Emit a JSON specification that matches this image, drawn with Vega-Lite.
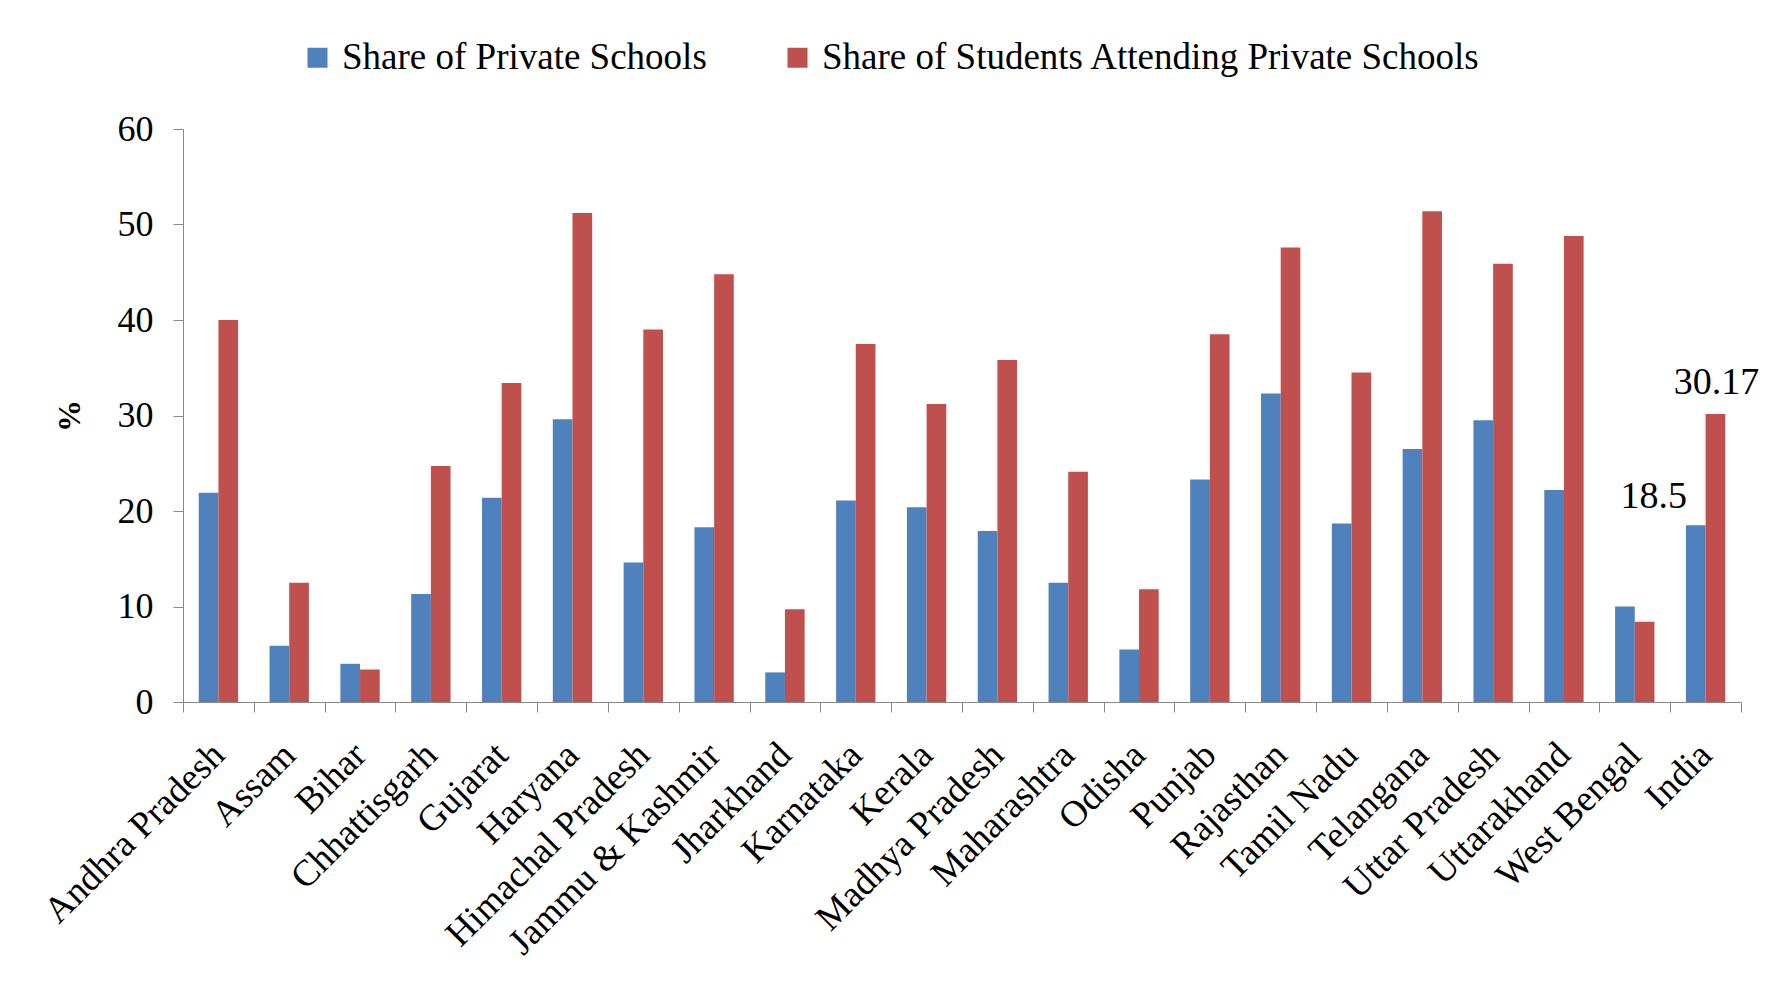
{
  "$schema": "https://vega.github.io/schema/vega-lite/v6.json",
  "width": 1558,
  "height": 573,
  "autosize": {"type": "none"},
  "padding": {"left": 183, "top": 129, "right": 44, "bottom": 279},
  "background": "white",
  "config": {
    "view": {"stroke": null},
    "font": "Liberation Serif",
    "axis": {"labelFont": "Liberation Serif", "titleFont": "Liberation Serif", "labelColor": "black", "titleColor": "black", "domainColor": "#888888", "tickColor": "#888888", "grid": false},
    "legend": {"labelFont": "Liberation Serif"}
  },
  "data": {
    "values": [
      {"state": "Andhra Pradesh", "series": "Share of Private Schools", "value": 21.9},
      {"state": "Andhra Pradesh", "series": "Share of Students Attending Private Schools", "value": 40.0},
      {"state": "Assam", "series": "Share of Private Schools", "value": 5.9},
      {"state": "Assam", "series": "Share of Students Attending Private Schools", "value": 12.5},
      {"state": "Bihar", "series": "Share of Private Schools", "value": 4.0},
      {"state": "Bihar", "series": "Share of Students Attending Private Schools", "value": 3.4},
      {"state": "Chhattisgarh", "series": "Share of Private Schools", "value": 11.3},
      {"state": "Chhattisgarh", "series": "Share of Students Attending Private Schools", "value": 24.7},
      {"state": "Gujarat", "series": "Share of Private Schools", "value": 21.4},
      {"state": "Gujarat", "series": "Share of Students Attending Private Schools", "value": 33.4},
      {"state": "Haryana", "series": "Share of Private Schools", "value": 29.6},
      {"state": "Haryana", "series": "Share of Students Attending Private Schools", "value": 51.2},
      {"state": "Himachal Pradesh", "series": "Share of Private Schools", "value": 14.6},
      {"state": "Himachal Pradesh", "series": "Share of Students Attending Private Schools", "value": 39.0},
      {"state": "Jammu & Kashmir", "series": "Share of Private Schools", "value": 18.3},
      {"state": "Jammu & Kashmir", "series": "Share of Students Attending Private Schools", "value": 44.8},
      {"state": "Jharkhand", "series": "Share of Private Schools", "value": 3.1},
      {"state": "Jharkhand", "series": "Share of Students Attending Private Schools", "value": 9.7},
      {"state": "Karnataka", "series": "Share of Private Schools", "value": 21.1},
      {"state": "Karnataka", "series": "Share of Students Attending Private Schools", "value": 37.5},
      {"state": "Kerala", "series": "Share of Private Schools", "value": 20.4},
      {"state": "Kerala", "series": "Share of Students Attending Private Schools", "value": 31.2},
      {"state": "Madhya Pradesh", "series": "Share of Private Schools", "value": 17.9},
      {"state": "Madhya Pradesh", "series": "Share of Students Attending Private Schools", "value": 35.8},
      {"state": "Maharashtra", "series": "Share of Private Schools", "value": 12.5},
      {"state": "Maharashtra", "series": "Share of Students Attending Private Schools", "value": 24.1},
      {"state": "Odisha", "series": "Share of Private Schools", "value": 5.5},
      {"state": "Odisha", "series": "Share of Students Attending Private Schools", "value": 11.8},
      {"state": "Punjab", "series": "Share of Private Schools", "value": 23.3},
      {"state": "Punjab", "series": "Share of Students Attending Private Schools", "value": 38.5},
      {"state": "Rajasthan", "series": "Share of Private Schools", "value": 32.3},
      {"state": "Rajasthan", "series": "Share of Students Attending Private Schools", "value": 47.6},
      {"state": "Tamil Nadu", "series": "Share of Private Schools", "value": 18.7},
      {"state": "Tamil Nadu", "series": "Share of Students Attending Private Schools", "value": 34.5},
      {"state": "Telangana", "series": "Share of Private Schools", "value": 26.5},
      {"state": "Telangana", "series": "Share of Students Attending Private Schools", "value": 51.4},
      {"state": "Uttar Pradesh", "series": "Share of Private Schools", "value": 29.5},
      {"state": "Uttar Pradesh", "series": "Share of Students Attending Private Schools", "value": 45.9},
      {"state": "Uttarakhand", "series": "Share of Private Schools", "value": 22.2},
      {"state": "Uttarakhand", "series": "Share of Students Attending Private Schools", "value": 48.8},
      {"state": "West Bengal", "series": "Share of Private Schools", "value": 10.0},
      {"state": "West Bengal", "series": "Share of Students Attending Private Schools", "value": 8.4},
      {"state": "India", "series": "Share of Private Schools", "value": 18.5},
      {"state": "India", "series": "Share of Students Attending Private Schools", "value": 30.17}
    ]
  },
  "encoding": {
    "x": {
      "field": "state", "type": "nominal", "sort": null,
      "scale": {"paddingInner": 0, "paddingOuter": 0},
      "axis": {"title": null, "labelAngle": -45, "labelAlign": "right", "labelBaseline": "middle", "labelFontSize": 37, "labelPadding": 37, "tickSize": 10, "tickBand": "extent", "labelLimit": 600}
    },
    "xOffset": {
      "field": "series", "type": "nominal",
      "sort": ["Share of Private Schools", "Share of Students Attending Private Schools"],
      "scale": {"paddingInner": 0, "paddingOuter": 0.8}
    },
    "y": {
      "field": "value", "type": "quantitative",
      "scale": {"domain": [0, 60], "nice": false},
      "axis": {"title": "%", "titleFontSize": 32, "titleFontWeight": "bold", "titleAngle": -90, "titlePadding": 31, "values": [0, 10, 20, 30, 40, 50, 60], "labelFontSize": 36, "labelPadding": 20, "tickSize": 10}
    }
  },
  "layer": [
    {
      "mark": {"type": "bar"},
      "encoding": {
        "color": {
          "field": "series", "type": "nominal",
          "scale": {"domain": ["Share of Private Schools", "Share of Students Attending Private Schools"], "range": ["#4f81bd", "#c0504d"]},
          "legend": {"title": null, "orient": "none", "direction": "horizontal", "columns": 2, "legendX": 116, "legendY": -90, "symbolType": "square", "symbolSize": 400, "symbolStrokeWidth": 0, "labelFontSize": 37, "labelOffset": 6, "columnPadding": 72, "labelLimit": 1000, "padding": 0}
        }
      }
    },
    {
      "transform": [{"filter": "datum.state === 'India' && datum.series === 'Share of Private Schools'"}],
      "mark": {"type": "text", "fontSize": 38, "dx": -42, "dy": -28, "baseline": "middle", "align": "center"},
      "encoding": {"text": {"field": "value", "type": "quantitative", "format": "~g"}}
    },
    {
      "transform": [{"filter": "datum.state === 'India' && datum.series === 'Share of Students Attending Private Schools'"}],
      "mark": {"type": "text", "fontSize": 38, "dx": 1, "dy": -31, "baseline": "middle", "align": "center"},
      "encoding": {"text": {"field": "value", "type": "quantitative", "format": "~g"}}
    }
  ]
}
